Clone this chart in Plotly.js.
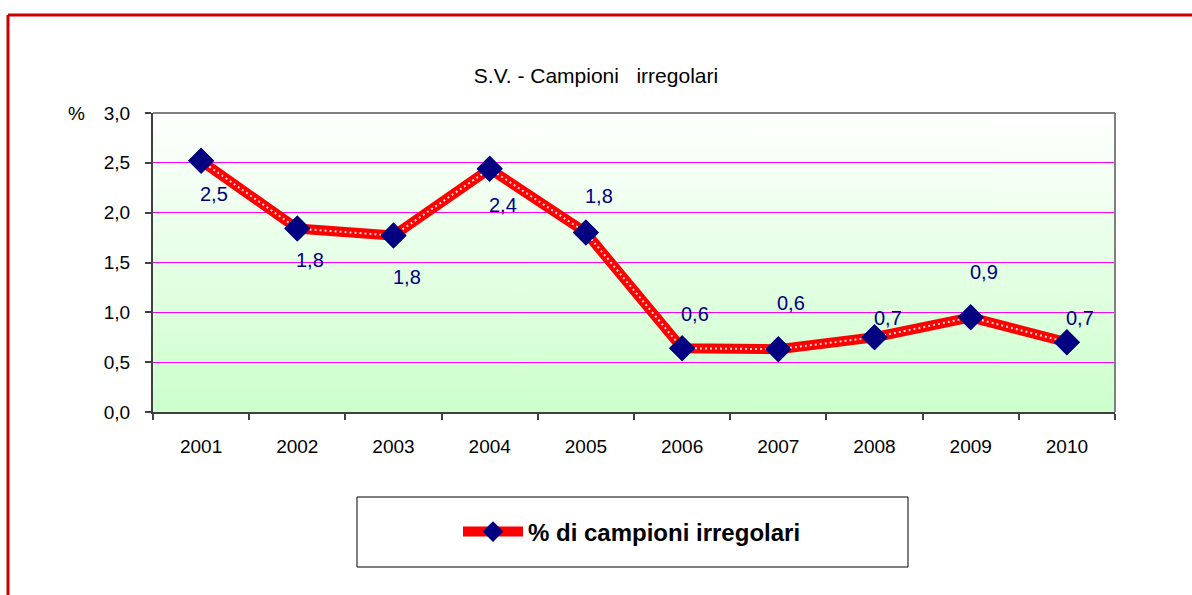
<!DOCTYPE html>
<html>
<head>
<meta charset="utf-8">
<script src="https://cdn.plot.ly/plotly-3.0.1.min.js"></script>
<style>
html,body{margin:0;padding:0;background:#fff;}
#chart{width:1192px;height:595px;}
</style>
</head>
<body>
<div id="chart"></div>
<script>
// ---- data ----
const years = ['2001','2002','2003','2004','2005','2006','2007','2008','2009','2010'];
const pctIrregolari = [2.52, 1.84, 1.77, 2.44, 1.80, 0.64, 0.63, 0.75, 0.95, 0.70];
const labelTexts = ['2,5','1,8','1,8','2,4','1,8','0,6','0,6','0,7','0,9','0,7'];
const yTickVals = [0, 0.5, 1.0, 1.5, 2.0, 2.5, 3.0];
const seriesName = '% di campioni irregolari';
const chartTitle = 'S.V. - Campioni   irregolari';

// ---- layout helpers (styling only) ----
const labelYShift = [-33, -31, -41, -36, 37, 34, 46, 19, 45, 24];
const labelXShift = 13;

const W = 1192, H = 595;
const L = 153, R = 77, T = 113, B = 183;
const pw = W - L - R, ph = H - T - B;
const px = x => (x - L) / pw;
const py = y => (H - B - y) / ph;

// gradient background image
const cv = document.createElement('canvas');
cv.width = 4; cv.height = 200;
const ctx = cv.getContext('2d');
const g = ctx.createLinearGradient(0, 0, 0, 200);
g.addColorStop(0, '#ffffff');
g.addColorStop(1, '#ccffcc');
ctx.fillStyle = g; ctx.fillRect(0, 0, 4, 200);
const gradURL = cv.toDataURL();

const font = 'Liberation Sans, Arial, sans-serif';

const traces = [
  {
    x: years, y: pctIrregolari, type: 'scatter', mode: 'lines+markers',
    name: seriesName, showlegend: true,
    line: {color: '#ff0000', width: 10},
    marker: {symbol: 'diamond', size: 20, color: '#000080'},
    hoverinfo: 'skip'
  },
  {
    x: years, y: pctIrregolari, type: 'scatter', mode: 'lines',
    showlegend: false,
    line: {color: 'rgba(255,255,255,0.85)', width: 2, dash: '2px,3px'},
    hoverinfo: 'skip'
  },
  {
    x: years, y: pctIrregolari, type: 'scatter', mode: 'markers',
    showlegend: false,
    marker: {symbol: 'diamond', size: 20, color: '#000080'},
    hoverinfo: 'skip'
  }
];

const annotations = years.map((yr, i) => ({
  x: i, y: pctIrregolari[i], xref: 'x', yref: 'y',
  text: labelTexts[i], showarrow: false,
  xanchor: 'center', yanchor: 'middle',
  xshift: labelXShift, yshift: labelYShift[i],
  font: {family: font, size: 20, color: '#000080'}
}));
annotations.push({
  x: px(76), y: 1, xref: 'paper', yref: 'paper', text: '%',
  showarrow: false, xanchor: 'center', yanchor: 'middle',
  font: {family: font, size: 19, color: '#000000'}
});

const shapes = [
  // plot border top & right
  {type: 'line', xref: 'paper', yref: 'paper', x0: 0, x1: 1, y0: 1, y1: 1, line: {color: '#808080', width: 2}},
  {type: 'line', xref: 'paper', yref: 'paper', x0: 1, x1: 1, y0: 0, y1: 1, line: {color: '#808080', width: 2}},
  // red frame
  {type: 'line', xref: 'paper', yref: 'paper', x0: px(8), x1: px(W + 5), y0: py(15), y1: py(15), line: {color: '#cc0000', width: 3}},
  {type: 'line', xref: 'paper', yref: 'paper', x0: px(8), x1: px(8), y0: py(15), y1: py(H + 5), line: {color: '#cc0000', width: 3}},
  // legend box
  {type: 'rect', xref: 'paper', yref: 'paper', x0: px(357), x1: px(908), y0: py(567), y1: py(497), line: {color: '#000000', width: 1}, fillcolor: 'rgba(0,0,0,0)'}
];

const layout = {
  width: W, height: H,
  margin: {l: L, r: R, t: T, b: B, pad: 0},
  paper_bgcolor: '#ffffff', plot_bgcolor: 'rgba(0,0,0,0)',
  separators: ',.',
  title: {text: chartTitle, xref: 'container', x: 0.5, xanchor: 'center', yref: 'container', y: 1 - 76 / H, yanchor: 'middle',
          font: {family: font, size: 21, color: '#000000'}},
  xaxis: {
    type: 'category', range: [-0.5, 9.5], fixedrange: true,
    showgrid: false, showline: true, linecolor: '#404040', linewidth: 2,
    ticks: 'outside', tickson: 'boundaries', ticklen: 6, tickcolor: '#404040', tickwidth: 2,
    tickfont: {family: font, size: 19, color: '#000000'}, ticklabelstandoff: 16
  },
  yaxis: {
    range: [0, 3], tickvals: yTickVals, tickformat: '.1f', fixedrange: true,
    showgrid: true, gridcolor: '#ff00ff', gridwidth: 1, zeroline: false,
    showline: true, linecolor: '#404040', linewidth: 2,
    ticks: 'outside', ticklen: 6, tickcolor: '#404040', tickwidth: 2,
    tickfont: {family: font, size: 19, color: '#000000'}, ticklabelstandoff: 11
  },
  legend: {
    x: px(458), y: py(532), xanchor: 'left', yanchor: 'middle',
    bgcolor: 'rgba(0,0,0,0)', borderwidth: 0, itemwidth: 60,
    font: {family: font, size: 24, color: '#000000', weight: 'bold'}
  },
  images: [{source: gradURL, xref: 'paper', yref: 'paper', x: 0, y: 1, sizex: 1, sizey: 1,
            sizing: 'stretch', layer: 'below', xanchor: 'left', yanchor: 'top'}],
  annotations: annotations,
  shapes: shapes,
  showlegend: true
};

Plotly.newPlot('chart', traces, layout, {displayModeBar: false, staticPlot: true});
</script>
</body>
</html>
